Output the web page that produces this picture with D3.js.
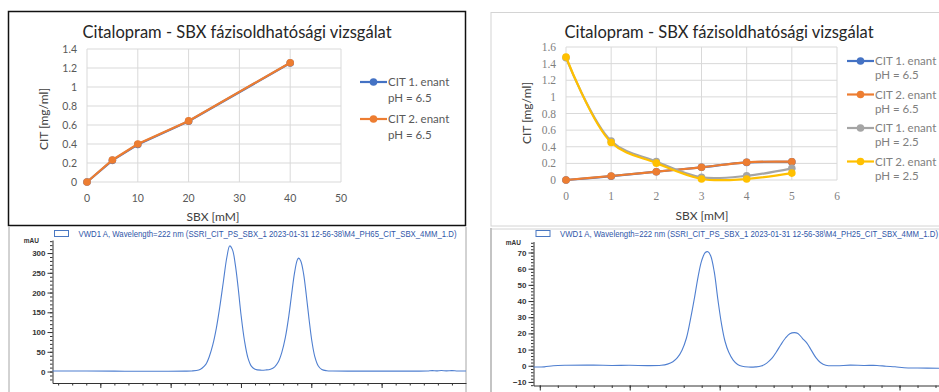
<!DOCTYPE html>
<html><head><meta charset="utf-8">
<script src="https://cdn.jsdelivr.net/npm/d3@7"></script>
<style>body{margin:0;background:#fff}svg{display:block}</style>
</head><body>
<svg id="c" width="939" height="392"></svg>
<script>
// ---------- DATA ----------
const chartTitle = "Citalopram - SBX fázisoldhatósági vizsgálat";
const leftX = [0, 5, 10, 20, 40];
const leftCit1 = [0, 0.228, 0.395, 0.64, 1.252];
const leftCit2 = [0, 0.232, 0.40, 0.643, 1.255];
const leftXTicks = [0, 10, 20, 30, 40, 50];
const leftYTicks = [0, 0.2, 0.4, 0.6, 0.8, 1, 1.2, 1.4];

const rightX = [0, 1, 2, 3, 4, 5];
const rCit1pH65 = [0, 0.046, 0.10, 0.153, 0.212, 0.218];
const rCit2pH65 = [0, 0.048, 0.10, 0.153, 0.213, 0.22];
const rCit1pH25 = [1.47, 0.47, 0.222, 0.032, 0.05, 0.14];
const rCit2pH25 = [1.48, 0.452, 0.203, 0.012, 0.012, 0.083];
const rightXTicks = [0, 1, 2, 3, 4, 5, 6];
const rightYTicks = [0, 0.2, 0.4, 0.6, 0.8, 1, 1.2, 1.4, 1.6];

const legendNames = ["CIT 1. enant", "CIT 2. enant", "CIT 1. enant", "CIT 2. enant"];
const legendPH = ["pH = 6.5", "pH = 6.5", "pH = 2.5", "pH = 2.5"];

const chromTitle1 = "VWD1 A, Wavelength=222 nm (SSRI_CIT_PS_SBX_1 2023-01-31 12-56-38\\M4_PH65_CIT_SBX_4MM_1.D)";
const chromTitle2 = "VWD1 A, Wavelength=222 nm (SSRI_CIT_PS_SBX_1 2023-01-31 12-56-38\\M4_PH25_CIT_SBX_4MM_1.D)";
// chromatogram pH 6.5: [time (min), signal (mAU)]
const chromA = [
 [7.32,1.2],[7.8,1.3],[8.2,1.0],[8.5,0.6],[8.9,0.8],[9.2,1.0],[9.3,1.5],[9.4,4],[9.45,9],[9.5,18],[9.55,38],
 [9.6,68],[9.65,110],[9.7,165],[9.75,228],[9.8,290],[9.84,318],[9.88,308],[9.92,270],[9.96,212],
 [10.0,145],[10.05,78],[10.1,34],[10.15,13],[10.2,6],[10.28,3.5],[10.35,4],[10.42,6],[10.48,12],
 [10.53,24],[10.58,48],[10.63,85],[10.68,140],[10.72,195],[10.76,248],[10.8,282],[10.82,287],
 [10.85,280],[10.89,248],[10.93,192],[10.97,130],[11.01,75],[11.05,38],[11.1,14],[11.15,5],
 [11.22,2],[11.3,1.2],[11.8,1.0],[12.4,1.0],[12.65,1.4],[12.72,2.4],[12.78,1.6],[12.85,2.6],
 [12.92,1.8],[13.0,2.4],[13.08,1.4],[13.2,1.2]
];
// chromatogram pH 2.5
const chromB = [
 [7.93,-0.8],[8.05,-0.7],[8.15,0.0],[8.3,0.3],[8.6,0.4],[8.8,0.2],[9.0,0.3],[9.2,0.1],[9.35,0.3],
 [9.42,1.0],[9.48,2.5],[9.53,5],[9.58,9.5],[9.63,17],[9.68,30],[9.72,42],[9.76,55],[9.8,65],
 [9.84,70],[9.87,70.5],[9.9,68],[9.94,58],[9.98,41],[10.02,26],[10.06,15],[10.1,8.5],[10.15,3.5],
 [10.2,0.8],[10.25,-0.3],[10.32,-0.8],[10.4,-0.7],[10.46,-0.2],[10.52,1.5],[10.58,4.5],[10.63,8.5],
 [10.68,13],[10.73,17],[10.78,19.8],[10.83,20.5],[10.87,20],[10.92,17],[10.97,14],[11.02,9.5],
 [11.07,5],[11.12,2],[11.18,0.3],[11.3,0],[11.45,0.4],[11.6,0.2],[11.75,0.2],[11.85,-0.3],
 [11.95,-0.6],[12.05,-1.2],[12.2,-1.4],[12.45,-1.5]
];
const chromAXTicks = [8, 9, 10, 11, 12];
const chromAYTicks = [0, 50, 100, 150, 200, 250, 300];
const chromBXTicks = [8, 9, 10, 11, 12];
const chromBYTicks = [-10, 0, 10, 20, 30, 40, 50, 60, 70];

// ---------- DRAW ----------
const svg = d3.select("#c");
const COL = ["#4472C4", "#ED7D31", "#A5A5A5", "#FFC000"];
const FONT = "Lato, 'Open Sans', sans-serif";

// frames
svg.append("rect").attr("x", 8.5).attr("y", 11.5).attr("width", 457).attr("height", 214)
  .attr("fill", "none").attr("stroke", "#111").attr("stroke-width", 1.5);
svg.append("rect").attr("x", 491).attr("y", 12.5).attr("width", 470).attr("height", 213.5)
  .attr("fill", "none").attr("stroke", "#d4d4d4");

function excelChart(o) {
  const g = svg.append("g");
  const x = d3.scaleLinear().domain(o.xd).range(o.xr);
  const y = d3.scaleLinear().domain(o.yd).range(o.yr);
  g.selectAll(".gx").data(o.xt).join("line")
    .attr("x1", d => x(d)).attr("x2", d => x(d)).attr("y1", o.yr[0]).attr("y2", o.yr[1])
    .attr("stroke", "#d9d9d9").attr("stroke-width", 1);
  g.selectAll(".gy").data(o.yt).join("line")
    .attr("y1", d => y(d)).attr("y2", d => y(d)).attr("x1", o.xr[0]).attr("x2", o.xr[1])
    .attr("stroke", "#d9d9d9").attr("stroke-width", 1);
  g.selectAll(".tx").data(o.xt).join("text")
    .attr("x", d => x(d)).attr("y", o.yr[0] + 20).attr("text-anchor", "middle")
    .attr("font-family", o.tickFont).attr("font-size", o.tickSize).attr("fill", o.tickCol)
    .text(d => d);
  g.selectAll(".ty").data(o.yt).join("text")
    .attr("x", o.xr[0] - 10).attr("y", d => y(d)).attr("dy", "0.35em").attr("text-anchor", "end")
    .attr("font-family", o.tickFont).attr("font-size", o.tickSize).attr("fill", o.tickCol)
    .text(d => d);
  g.append("text").attr("x", o.titleX).attr("y", o.titleY).attr("text-anchor", "middle")
    .attr("font-family", FONT).attr("font-size", 16.5).attr("fill", "#262626").text(chartTitle);
  g.append("text").attr("x", o.xtX).attr("y", o.xtY).attr("text-anchor", "middle")
    .attr("font-family", FONT).attr("font-size", 12).attr("fill", "#404040").text("SBX [mM]");
  g.append("text").attr("transform", `translate(${o.ytX},${o.ytY}) rotate(-90)`).attr("text-anchor", "middle")
    .attr("font-family", FONT).attr("font-size", 12).attr("fill", "#404040").text("CIT [mg/ml]");
  o.series.forEach((s, i) => {
    const pts = o.xs.map((v, k) => [v, s.values[k]]);
    g.append("path").datum(pts)
      .attr("d", d3.line().x(d => x(d[0])).y(d => y(d[1])).curve(o.curve))
      .attr("fill", "none").attr("stroke", s.color).attr("stroke-width", 2.2);
    g.selectAll(null).data(pts).join("circle")
      .attr("cx", d => x(d[0])).attr("cy", d => y(d[1])).attr("r", 3.8).attr("fill", s.color);
  });
  o.series.forEach((s, i) => {
    const ly = o.legY[i];
    g.append("line").attr("x1", o.legX).attr("x2", o.legX + 27).attr("y1", ly).attr("y2", ly)
      .attr("stroke", s.color).attr("stroke-width", 2.2);
    g.append("circle").attr("cx", o.legX + 13.5).attr("cy", ly).attr("r", 3.8).attr("fill", s.color);
    g.append("text").attr("x", o.legX + 28).attr("y", ly).attr("dy", "0.35em")
      .attr("font-family", FONT).attr("font-size", 11.5).attr("fill", o.legCol).text(legendNames[i]);
    g.append("text").attr("x", o.legX + 28).attr("y", ly + o.legGap).attr("dy", "0.35em")
      .attr("font-family", FONT).attr("font-size", 11.5).attr("fill", o.legCol).text(legendPH[i]);
  });
}

excelChart({
  xd: [0, 50], xr: [87, 341], yd: [0, 1.4], yr: [182, 49],
  xt: leftXTicks, yt: leftYTicks, xs: leftX,
  tickFont: FONT, tickSize: 10.5, tickCol: "#595959",
  titleX: 237, titleY: 38, xtX: 213, xtY: 220.5, ytX: 48, ytY: 119,
  curve: d3.curveLinear,
  series: [{values: leftCit1, color: COL[0]}, {values: leftCit2, color: COL[1]}],
  legX: 360, legY: [82, 119], legGap: 16, legCol: "#595959"
});

excelChart({
  xd: [0, 6], xr: [566, 837], yd: [0, 1.6], yr: [180, 47],
  xt: rightXTicks, yt: rightYTicks, xs: rightX,
  tickFont: "'Liberation Serif', serif", tickSize: 11.5, tickCol: "#7f7f7f",
  titleX: 719, titleY: 38, xtX: 702, xtY: 220, ytX: 531, ytY: 113,
  curve: d3.curveCatmullRom.alpha(0.5),
  series: [{values: rCit1pH65, color: COL[0]}, {values: rCit2pH65, color: COL[1]},
           {values: rCit1pH25, color: COL[2]}, {values: rCit2pH25, color: COL[3]}],
  legX: 847, legY: [61, 94.5, 128, 161.5], legGap: 14, legCol: "#808080"
});

// chromatogram frames
svg.append("line").attr("x1", 9).attr("x2", 9).attr("y1", 227).attr("y2", 392).attr("stroke", "#a6a6a6");
svg.append("line").attr("x1", 466).attr("x2", 466).attr("y1", 227).attr("y2", 392).attr("stroke", "#a6a6a6");
svg.append("line").attr("x1", 491).attr("x2", 939).attr("y1", 229).attr("y2", 229).attr("stroke", "#d4d4d4");
svg.append("line").attr("x1", 491).attr("x2", 491).attr("y1", 228).attr("y2", 392).attr("stroke", "#c4c4c4").attr("stroke-width", 2);

function chrom(o) {
  const g = svg.append("g");
  const x = d3.scaleLinear().domain(o.xd).range(o.xr);
  const y = d3.scaleLinear().domain(o.yd).range(o.yr);
  const cf = "'Liberation Sans', Arial, sans-serif";
  const ymin = d3.range(Math.ceil(o.yd[0] / o.yMinor) * o.yMinor, o.yd[1], o.yMinor);
  g.append("g").attr("transform", `translate(${o.xr[0]},0)`)
    .call(d3.axisLeft(y).tickValues(ymin).tickSize(2.5).tickFormat(""))
    .call(a => a.select(".domain").remove())
    .selectAll("line").attr("stroke", "#333");
  const xmin = d3.range(Math.ceil(o.xd[0] / 0.2) * 0.2, o.xd[1], 0.2);
  g.append("g").attr("transform", `translate(0,${o.yr[0]})`)
    .call(d3.axisBottom(x).tickValues(xmin).tickSize(2.5).tickFormat(""))
    .call(a => a.select(".domain").remove())
    .selectAll("line").attr("stroke", "#333");
  const ya = g.append("g").attr("transform", `translate(${o.xr[0]},0)`)
    .call(d3.axisLeft(y).tickValues(o.yt).tickSize(5).tickSizeOuter(0).tickPadding(2));
  ya.select(".domain").attr("stroke", "#333");
  ya.selectAll("line").attr("stroke", "#333");
  ya.selectAll("text").attr("font-family", cf).attr("font-size", 8).attr("font-weight", "bold").attr("fill", "#333");
  const xa = g.append("g").attr("transform", `translate(0,${o.yr[0]})`)
    .call(d3.axisBottom(x).tickValues(o.xt).tickSize(5).tickSizeOuter(0).tickPadding(3));
  xa.select(".domain").attr("stroke", "#333");
  xa.selectAll("line").attr("stroke", "#333");
  xa.selectAll("text").attr("font-family", cf).attr("font-size", 8).attr("font-weight", "bold").attr("fill", "#333");
  if (o.minLabel) g.append("text").attr("x", o.xr[1] - 6).attr("y", o.yr[0] + 15).attr("text-anchor", "middle")
    .attr("font-family", cf).attr("font-size", 8).attr("font-weight", "bold").attr("fill", "#333").text("min");
  g.append("text").attr("x", o.mauX).attr("y", o.yr[1] + 3).attr("text-anchor", "end")
    .attr("font-family", cf).attr("font-size", 6.5).attr("font-weight", "bold").attr("fill", "#333").text("mAU");
  g.append("rect").attr("x", o.boxX).attr("y", 230.5).attr("width", 14).attr("height", 6)
    .attr("fill", "none").attr("stroke", "#4a78c2").attr("stroke-width", 1);
  g.append("text").attr("x", o.boxX + 24).attr("y", 236.5).attr("font-family", cf).attr("font-size", 8.6)
    .attr("fill", "#2f56a8").attr("textLength", 378).attr("lengthAdjust", "spacingAndGlyphs").text(o.title);
  g.append("path").datum(o.data)
    .attr("d", d3.line().x(d => x(d[0])).y(d => y(d[1])).curve(d3.curveCatmullRom.alpha(0.5)))
    .attr("fill", "none").attr("stroke", "#4f7fd0").attr("stroke-width", 1.1);
}

chrom({ xd: [7.32, 13.2], xr: [52.5, 466], yd: [-29, 333], yr: [383, 240],
  xt: chromAXTicks, yt: chromAYTicks, yMinor: 10, data: chromA, title: chromTitle1,
  boxX: 54.5, mauX: 39, minLabel: true });
chrom({ xd: [7.93, 12.45], xr: [533.5, 940], yd: [-12.2, 76.8], yr: [385.5, 241.5],
  xt: chromBXTicks, yt: chromBYTicks, yMinor: 2, data: chromB, title: chromTitle2,
  boxX: 536, mauX: 521, minLabel: false });
</script>
</body></html>
